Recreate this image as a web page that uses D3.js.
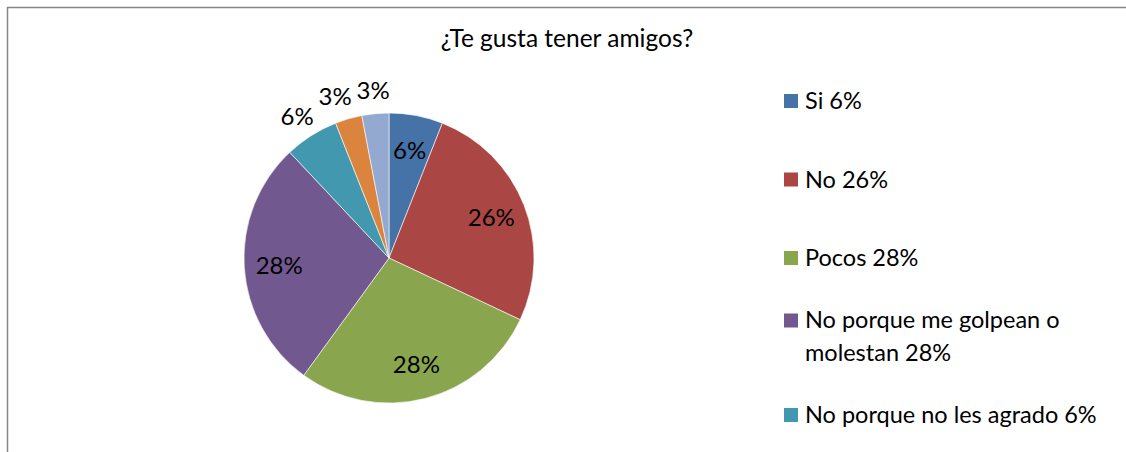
<!doctype html>
<html lang="es">
<head>
    <meta charset="UTF-8">
    <title>pie</title>
    <script src="https://cdn.jsdelivr.net/npm/d3@7"></script>
    <style>
        body { margin: 0; background: #fff; }
        text { font-family: "Lato", "DejaVu Sans Condensed", sans-serif; fill: #000; }
    </style>
</head>
<body>
<svg width="1126" height="452"></svg>
</body>
<script>

    let title = "¿Te gusta tener amigos?";
    let categories = ["Si", "No", "Pocos", "No porque me golpean o molestan", "No porque no les agrado", "Otro A", "Otro B"];
    let values = [6, 26, 28, 28, 6, 3, 3];
    let colors = ["#4572A7", "#AA4643", "#89A54E", "#71588F", "#4198AF", "#DB843D", "#93A9CF"];
    // legend lines as shown (only the first five fit)
    let legendLines = [["Si 6%"], ["No 26%"], ["Pocos 28%"], ["No porque me golpean o", "molestan 28%"], ["No porque no les agrado 6%"]];

    let svg = d3.select("svg");
    let width = +svg.attr("width"), height = +svg.attr("height");

    svg.append("rect")
        .attr("x", 7.5).attr("y", 7.5)
        .attr("width", 1120).attr("height", 470)
        .attr("fill", "none").attr("stroke", "#868686").attr("stroke-width", 1.5);

    svg.append("text")
        .attr("x", 567).attr("y", 47)
        .attr("text-anchor", "middle")
        .style("font-size", "24.5px")
        .text(title);

    let cx = 389, cy = 258, r = 145;
    let g = svg.append("g").attr("transform", "translate(" + cx + "," + cy + ")");

    let pie = d3.pie().sort(null).value(d => d);
    let arcs = pie(values);
    let arc = d3.arc().innerRadius(0).outerRadius(r);
    let inArc = d3.arc().innerRadius(110).outerRadius(110);
    let outArc = d3.arc().innerRadius(168).outerRadius(168);

    g.selectAll("path").data(arcs).enter().append("path")
        .attr("d", arc)
        .attr("fill", (d, i) => colors[i])
        .attr("stroke", "#fff")
        .attr("stroke-width", 0.6);

    // label positions, small slices outside; push outside labels apart
    let pos = arcs.map(d => (d.data < 10 && d.index > 3) ? outArc.centroid(d) : inArc.centroid(d));
    for (let i = arcs.length - 2; i > 3; i--) {
        if (pos[i + 1][0] - pos[i][0] < 38) pos[i][0] = pos[i + 1][0] - 38;
    }

    g.selectAll(".lbl").data(arcs).enter().append("text")
        .attr("class", "lbl")
        .attr("transform", (d, i) => "translate(" + pos[i] + ")")
        .attr("text-anchor", "middle")
        .attr("dy", "0.36em")
        .style("font-size", "24px")
        .text(d => d.data + "%");

    let legendY = d3.scaleLinear().domain([0, 4]).range([101, 415]);
    let lg = svg.selectAll(".leg").data(legendLines).enter().append("g")
        .attr("class", "leg")
        .attr("transform", (d, i) => "translate(784," + legendY(i) + ")");

    lg.append("rect")
        .attr("x", 0).attr("y", (d) => -7 - (d.length - 1) * 16)
        .attr("width", 14).attr("height", 14)
        .attr("fill", (d, i) => colors[i]);

    lg.each(function (d) {
        let t = d3.select(this);
        d.forEach((line, k) => {
            t.append("text")
                .attr("x", 21)
                .attr("y", 8 + (k - (d.length - 1) / 2) * 33)
                .style("font-size", "23.5px")
                .text(line);
        });
    });

</script>
</html>
